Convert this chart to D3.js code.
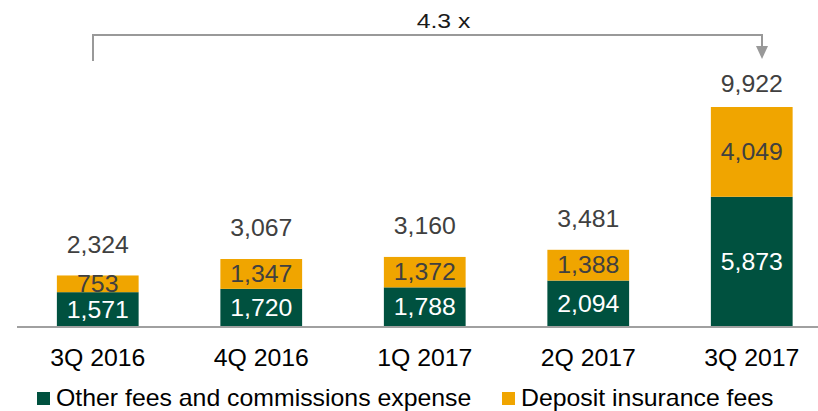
<!DOCTYPE html>
<html>
<head>
<meta charset="utf-8">
<script src="https://cdn.jsdelivr.net/npm/d3@7"></script>
<style>
  body { margin: 0; background: #fff; }
  svg { display: block; font-family: "Liberation Sans", Arial, sans-serif; }
</style>
</head>
<body>
<div id="chart"></div>
<script>
// Chart data
var quarters = ["3Q 2016", "4Q 2016", "1Q 2017", "2Q 2017", "3Q 2017"];
var otherFees = [1571, 1720, 1788, 2094, 5873];
var depositFees = [753, 1347, 1372, 1388, 4049];
var totals = [2324, 3067, 3160, 3481, 9922];
var seriesNames = ["Other fees and commissions expense", "Deposit insurance fees"];
var growthLabel = "4.3 x";

var svgWidth = 818;
var svgHeight = 411;
var colors = ["#00513f", "#f0a500"];
var baseline = 327;
var stretch = 1.08; // the source text is slightly wider than plain Arial

var svg = d3.select("#chart")
    .append("svg")
    .attr("width", svgWidth)
    .attr("height", svgHeight);

// Helper: text drawn at (x, y) with a small horizontal stretch
function addText(parent, x, y, str, opts) {
    return parent.append("text")
        .attr("transform", "translate(" + x + "," + y + ") scale(" + (opts.sx || stretch) + ",1)")
        .attr("dy", "0.36em")
        .attr("text-anchor", opts.anchor || "middle")
        .attr("font-size", opts.size)
        .attr("fill", opts.fill)
        .text(str);
}

// Scales
var xScale = d3.scaleBand()
    .domain(quarters)
    .range([16, 833.5])
    .paddingInner(0.5)
    .paddingOuter(0.25);

var yScale = d3.scaleLinear()
    .domain([0, 9922])
    .range([baseline, 107]);

// Stack the two series
var rows = quarters.map(function(q, i) {
    return { quarter: q, other: otherFees[i], deposit: depositFees[i] };
});
var stacked = d3.stack().keys(["other", "deposit"])(rows);

var layers = svg.selectAll(".layer")
    .data(stacked)
    .enter().append("g")
    .attr("class", "layer")
    .attr("fill", function(d, i) { return colors[i]; });

layers.selectAll("rect")
    .data(function(d) { return d; })
    .enter().append("rect")
    .attr("x", function(d) { return xScale(d.data.quarter); })
    .attr("y", function(d) { return yScale(d[1]); })
    .attr("width", xScale.bandwidth())
    .attr("height", function(d) { return yScale(d[0]) - yScale(d[1]); });

// Segment labels
var labelGroup = svg.append("g");
stacked.forEach(function(layer, li) {
    layer.forEach(function(d) {
        addText(labelGroup,
            xScale(d.data.quarter) + xScale.bandwidth() / 2,
            (yScale(d[0]) + yScale(d[1])) / 2,
            d3.format(",")(d[1] - d[0]),
            { size: 23, fill: li === 0 ? "#ffffff" : "#404040" });
    });
});

// Totals above bars (kept below the bracket)
totals.forEach(function(d, i) {
    addText(labelGroup,
        xScale(quarters[i]) + xScale.bandwidth() / 2,
        Math.max(yScale(d) - 31, 84),
        d3.format(",")(d),
        { size: 23, fill: "#404040" });
});

// Baseline
svg.append("line")
    .attr("x1", 17)
    .attr("x2", svgWidth)
    .attr("y1", baseline)
    .attr("y2", baseline)
    .attr("stroke", "#a0a0a0")
    .attr("stroke-width", 2);

// Category axis labels
quarters.forEach(function(q) {
    addText(svg, xScale(q) + xScale.bandwidth() / 2, 358, q, { size: 23, fill: "#000" });
});

// Growth bracket
var leftX = 93;
var rightX = 762;
var bracketY = 35;
svg.append("path")
    .attr("d", "M" + leftX + "," + 61 + "V" + bracketY + "H" + rightX + "V" + 48)
    .attr("fill", "none")
    .attr("stroke", "#999999")
    .attr("stroke-width", 2);
svg.append("path")
    .attr("d", "M" + (rightX - 6) + ",46L" + (rightX + 6) + ",46L" + rightX + ",59Z")
    .attr("fill", "#999999");
addText(svg, (leftX + rightX) / 2 + 16, 20, growthLabel, { size: 21, sx: 1.18, fill: "#1a1a1a" });

// Legend
var legendX = [37, 502];
legendX.forEach(function(lx, i) {
    svg.append("rect")
        .attr("x", lx)
        .attr("y", 392)
        .attr("width", 13)
        .attr("height", 13)
        .attr("fill", colors[i]);
    addText(svg, lx + 19, 398, seriesNames[i], { size: 23, fill: "#000", anchor: "start" });
});
</script>
</body>
</html>
